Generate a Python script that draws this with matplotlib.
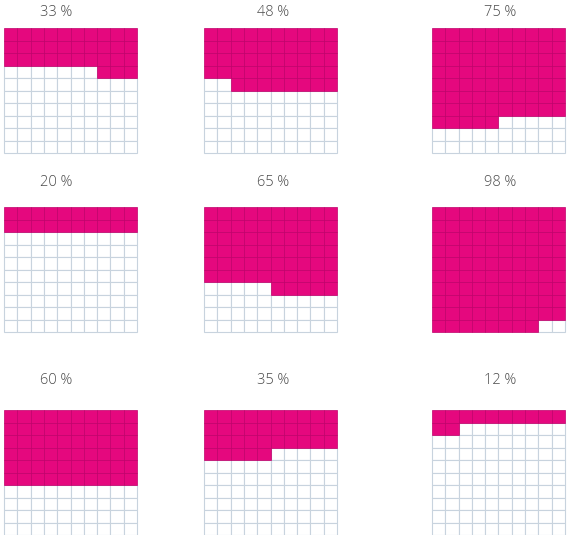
import matplotlib
matplotlib.use("Agg")
import matplotlib.pyplot as plt
from matplotlib.patches import Rectangle

# percentage shown in each waffle, row by row
values = [33, 48, 75, 20, 65, 98, 60, 35, 12]
labels = [f"{v} %" for v in values]
# side of the last, partly filled row where the filled cells sit
partial_side = ["right", "right", "left", "left", "right", "left", "left", "left", "left"]

W, H = 567, 535
FILL = "#E5087E"
FILL_EDGE = "#C0006A"
EMPTY_EDGE = "#C8D3DE"

col_left = [4, 204, 432]
row_top = [28, 207, 410]
label_x = [56, 273, 500]
label_y = [12, 183, 380]
gw, gh = 133, 125

plt.rcParams["font.family"] = ["Open Sans", "DejaVu Sans"]
fig = plt.figure(figsize=(W / 100, H / 100), dpi=100)

for i, (v, lab, side) in enumerate(zip(values, labels, partial_side)):
    r, c = divmod(i, 3)
    ax = fig.add_axes([col_left[c] / W, (H - row_top[r] - gh) / H, gw / W, gh / H])
    ax.set_xlim(0, 10)
    ax.set_ylim(10, 0)
    ax.axis("off")
    full_rows, rest = divmod(v, 10)
    filled = set()
    for row in range(full_rows):
        for col in range(10):
            filled.add((row, col))
    if rest:
        cols = range(rest) if side == "left" else range(10 - rest, 10)
        for col in cols:
            filled.add((full_rows, col))
    for row in range(10):
        for col in range(10):
            if (row, col) not in filled:
                ax.add_patch(Rectangle((col, row), 1, 1, facecolor="white",
                                       edgecolor=EMPTY_EDGE, lw=0.8, clip_on=False))
    for row, col in filled:
        ax.add_patch(Rectangle((col, row), 1, 1, facecolor=FILL,
                               edgecolor=FILL_EDGE, lw=0.5, clip_on=False, zorder=3))
    fig.text(label_x[c] / W, 1 - label_y[r] / H, lab, ha="center", va="center",
             fontsize=10.5, color="#4a4a4a", fontweight="light")

fig.savefig("out.png", dpi=100)
